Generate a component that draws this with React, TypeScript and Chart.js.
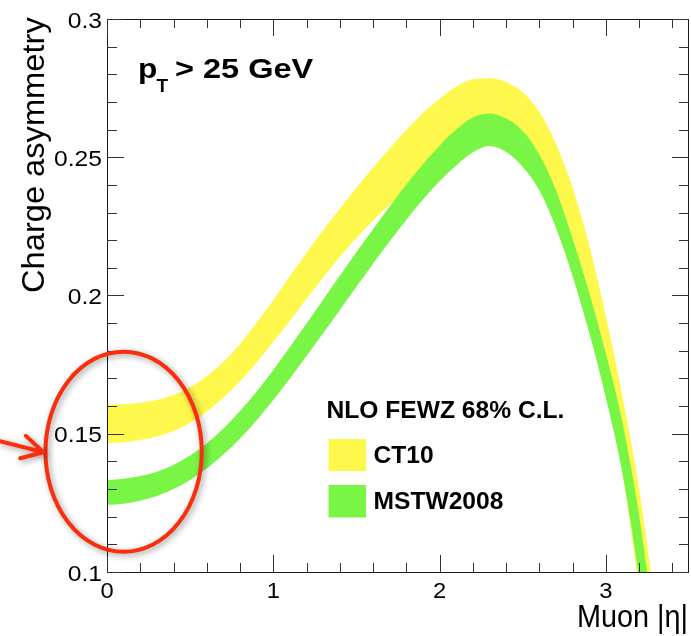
import React, { useEffect, useRef } from 'react';
import { Chart, registerables } from 'chart.js';

Chart.register(...registerables);

// Muon |eta| sampling points
const eta = [
  0, 0.1, 0.2, 0.3, 0.4, 0.5, 0.6, 0.7, 0.8, 0.9,
  1.0, 1.1, 1.2, 1.3, 1.4, 1.5, 1.6, 1.7, 1.8, 1.9,
  2.0, 2.1, 2.2, 2.3, 2.4, 2.5, 2.6, 2.7, 2.8, 2.9,
  3.0, 3.1, 3.2, 3.3,
];

// CT10 68% C.L. band edges
const ct10Upper = [
  0.1605, 0.1607, 0.1612, 0.1622, 0.1640, 0.1668, 0.1708, 0.1760, 0.1825, 0.1901,
  0.1984, 0.2070, 0.2155, 0.2237, 0.2315, 0.2390, 0.2462, 0.2532, 0.2599, 0.2660,
  0.2712, 0.2755, 0.2782, 0.2786, 0.2772, 0.2735, 0.2664, 0.2549, 0.2389, 0.2182,
  0.1924, 0.1634, 0.1299, 0.0869,
];
const ct10Lower = [
  0.1466, 0.1469, 0.1477, 0.1490, 0.1510, 0.1540, 0.1580, 0.1630, 0.1690, 0.1758,
  0.1832, 0.1909, 0.1988, 0.2065, 0.2139, 0.2208, 0.2271, 0.2329, 0.2383, 0.2436,
  0.2482, 0.2522, 0.2555, 0.2572, 0.2560, 0.2520, 0.2445, 0.2330, 0.2165, 0.1955,
  0.1690, 0.1357, 0.0935, 0.0430,
];

// MSTW2008 68% C.L. band edges
const mstwUpper = [
  0.1333, 0.1337, 0.1347, 0.1363, 0.1387, 0.1421, 0.1465, 0.1519, 0.1582, 0.1653,
  0.1731, 0.1814, 0.1899, 0.1985, 0.2071, 0.2156, 0.2240, 0.2322, 0.2401, 0.2475,
  0.2542, 0.2600, 0.2644, 0.2658, 0.2640, 0.2595, 0.2510, 0.2381, 0.2206, 0.2010,
  0.1790, 0.1540, 0.1205, 0.0760,
];
const mstwLower = [
  0.1243, 0.1247, 0.1258, 0.1275, 0.1300, 0.1333, 0.1375, 0.1425, 0.1483, 0.1549,
  0.1622, 0.1700, 0.1781, 0.1864, 0.1948, 0.2032, 0.2115, 0.2196, 0.2274, 0.2347,
  0.2413, 0.2470, 0.2518, 0.2541, 0.2520, 0.2465, 0.2380, 0.2245, 0.2070, 0.1865,
  0.1630, 0.1355, 0.0975, 0.0500,
];

const xTickValues = [0, 1, 2, 3];
const xTickLabels = ['0', '1', '2', '3'];
const yTickValues = [0.1, 0.15, 0.2, 0.25, 0.3];
const yTickLabels = ['0.1', '0.15', '0.2', '0.25', '0.3'];

const xTitle = 'Muon |η|';
const yTitle = 'Charge asymmetry';
const legendTitle = 'NLO FEWZ 68% C.L.';
const seriesNames = ['CT10', 'MSTW2008'];

const YELLOW = '#fff84c';
const GREEN = '#79f545';
const RED = '#fa2e0c';
const FONT = "'Liberation Sans', Arial, Helvetica, sans-serif";

// highlighted region around the low-|eta| values (data units)
const circleCenter = { x: 0.1, y: 0.1435 };
const circleRadius = { x: 0.47, y: 0.0362 };

const toPoints = (ys: number[]) => eta.map((x, i) => ({ x, y: ys[i] }));

function drawText(
  ctx: CanvasRenderingContext2D,
  str: string,
  x: number,
  y: number,
  font: string,
  sx = 1,
  align: 'left' | 'right' | 'center' = 'left',
) {
  ctx.save();
  ctx.font = font;
  ctx.textBaseline = 'alphabetic';
  ctx.textAlign = 'left';
  const w = ctx.measureText(str).width * sx;
  const x0 = align === 'right' ? x - w : align === 'center' ? x - w / 2 : x;
  ctx.translate(x0, y);
  ctx.scale(sx, 1);
  ctx.fillStyle = '#000';
  ctx.fillText(str, 0, 0);
  ctx.restore();
}

const decorations = {
  id: 'rootFrame',
  afterDraw(chart: any) {
    const ctx: CanvasRenderingContext2D = chart.ctx;
    const { left, right, top, bottom } = chart.chartArea;
    const xs = chart.scales.x;
    const ys = chart.scales.y;

    ctx.save();
    // frame
    ctx.strokeStyle = '#1a1a1a';
    ctx.lineWidth = 1;
    ctx.strokeRect(left + 0.5, top + 0.5, right - left - 1, bottom - top);

    // ticks on all four sides, pointing inward
    ctx.strokeStyle = '#333';
    ctx.beginPath();
    for (let k = 0; k <= 35; k += 2) {
      const v = k / 10;
      const px = Math.round(xs.getPixelForValue(v)) + 0.5;
      const len = k % 10 === 0 ? 17 : 9;
      ctx.moveTo(px, bottom);
      ctx.lineTo(px, bottom - len);
      ctx.moveTo(px, top);
      ctx.lineTo(px, top + len);
    }
    for (let k = 10; k <= 30; k += 1) {
      const v = k / 100;
      const py = Math.round(ys.getPixelForValue(v)) + 0.5;
      const len = k % 5 === 0 ? 17 : 10;
      ctx.moveTo(left, py);
      ctx.lineTo(left + len, py);
      ctx.moveTo(right, py);
      ctx.lineTo(right - len, py);
    }
    ctx.stroke();
    ctx.restore();

    // tick labels
    yTickValues.forEach((v, i) => {
      const py = ys.getPixelForValue(v);
      drawText(ctx, yTickLabels[i], left - 5, py + 8.5, `22px ${FONT}`, 1.12, 'right');
    });
    xTickValues.forEach((v, i) => {
      const px = xs.getPixelForValue(v);
      drawText(ctx, xTickLabels[i], px, 597.5, `22px ${FONT}`, 1.08, 'center');
    });

    // axis titles
    ctx.save();
    ctx.translate(43.5, 293);
    ctx.rotate(-Math.PI / 2);
    drawText(ctx, yTitle, 0, 0, `32px ${FONT}`, 1.02, 'left');
    ctx.restore();
    drawText(ctx, xTitle, 688, 626.5, `32px ${FONT}`, 0.9, 'right');

    // cut label
    drawText(ctx, 'p', 138, 78.3, `bold 28px ${FONT}`, 1.13);
    drawText(ctx, 'T', 156.5, 91.5, `bold 18px ${FONT}`, 1.05);
    drawText(ctx, '> 25 GeV', 175, 78.3, `bold 28px ${FONT}`, 1.16);

    // legend
    drawText(ctx, legendTitle, 326.5, 418.3, `bold 23px ${FONT}`, 1.07);
    ctx.fillStyle = YELLOW;
    ctx.fillRect(328.5, 439, 37.5, 32);
    ctx.fillStyle = GREEN;
    ctx.fillRect(328.5, 485, 37.5, 32.5);
    drawText(ctx, seriesNames[0], 373.5, 463.3, `bold 23px ${FONT}`, 1.07);
    drawText(ctx, seriesNames[1], 373.5, 509.3, `bold 23px ${FONT}`, 1.07);

    // highlight ellipse with arrow
    const cx = xs.getPixelForValue(circleCenter.x);
    const cy = ys.getPixelForValue(circleCenter.y);
    const rx = xs.getPixelForValue(circleCenter.x + circleRadius.x) - cx;
    const ry = cy - ys.getPixelForValue(circleCenter.y + circleRadius.y);
    ctx.save();
    ctx.strokeStyle = RED;
    ctx.lineWidth = 4;
    ctx.shadowColor = 'rgba(0,0,0,0.4)';
    ctx.shadowBlur = 6;
    ctx.shadowOffsetX = 2;
    ctx.shadowOffsetY = 2;
    ctx.beginPath();
    ctx.ellipse(cx, cy, rx, ry, 0, 0, Math.PI * 2);
    ctx.stroke();

    const tipX = cx - rx - 2;
    const tipY = cy + 0.5;
    const startX = 0;
    const startY = tipY - 11;
    const ang = Math.atan2(tipY - startY, tipX - startX);
    const wing = 24;
    ctx.lineCap = 'round';
    ctx.lineJoin = 'round';
    ctx.beginPath();
    ctx.moveTo(startX, startY);
    ctx.lineTo(tipX, tipY);
    ctx.moveTo(tipX - wing * Math.cos(ang - 0.5), tipY - wing * Math.sin(ang - 0.5));
    ctx.lineTo(tipX, tipY);
    ctx.lineTo(tipX - wing * Math.cos(ang + 0.5), tipY - wing * Math.sin(ang + 0.5));
    ctx.stroke();
    ctx.restore();
  },
};

export default function App() {
  const canvasRef = useRef<HTMLCanvasElement | null>(null);

  useEffect(() => {
    document.body.style.margin = '0';
    const canvas = canvasRef.current;
    if (!canvas) return;

    const band = (data: number[], color: string, fill: any) => ({
      data: toPoints(data),
      borderWidth: 0,
      borderColor: 'rgba(0,0,0,0)',
      backgroundColor: color,
      pointRadius: 0,
      fill,
      cubicInterpolationMode: 'monotone' as const,
    });

    const chart = new Chart(canvas, {
      type: 'line',
      data: {
        datasets: [
          band(mstwUpper, GREEN, '+1'),
          band(mstwLower, GREEN, false),
          band(ct10Upper, YELLOW, '+1'),
          band(ct10Lower, YELLOW, false),
        ],
      },
      options: {
        animation: false,
        responsive: false,
        devicePixelRatio: 1,
        layout: { padding: { left: 107, right: 2, top: 19, bottom: 64 } },
        plugins: {
          legend: { display: false },
          tooltip: { enabled: false },
        },
        scales: {
          x: { type: 'linear', min: 0, max: 3.5, display: false },
          y: { type: 'linear', min: 0.1, max: 0.3, display: false },
        },
      },
      plugins: [decorations],
    });

    return () => chart.destroy();
  }, []);

  return (
    <div style={{ width: 691, height: 636, background: '#fff' }}>
      <canvas ref={canvasRef} width={691} height={636} style={{ display: 'block' }} />
    </div>
  );
}
